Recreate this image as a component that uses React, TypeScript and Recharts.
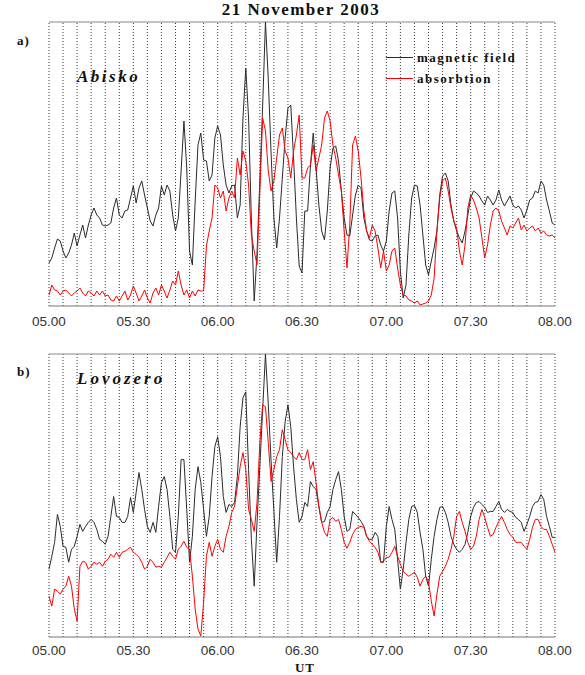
import React from 'react';
import { LineChart, Line, XAxis, YAxis, ReferenceLine, Legend } from 'recharts';

// minutes after 05.00 UT, one sample per minute (t = 0 .. 180)
const abiskoMag = [
  43, 48, 58, 67, 65, 55, 48, 53, 61, 73,
  60, 71, 81, 68, 81, 91, 98, 91, 88, 81,
  80, 81, 83, 98, 108, 91, 88, 95, 96, 108,
  120, 103, 118, 125, 111, 98, 85, 80, 91, 98,
  120, 111, 121, 115, 91, 75, 88, 135, 185, 138,
  55, 41, 105, 161, 173, 146, 145, 125, 131, 168,
  180, 171, 141, 121, 113, 120, 121, 88, 101, 188,
  238, 188, 86, 5, 53, 125, 200, 284, 227, 153,
  88, 58, 88, 128, 168, 198, 201, 148, 88, 40,
  33, 95, 95, 140, 173, 138, 101, 75, 66, 95,
  138, 158, 160, 145, 115, 88, 71, 70, 91, 111,
  121, 118, 88, 75, 66, 65, 70, 71, 61, 55,
  65, 95, 113, 115, 88, 35, 8, 21, 71, 108,
  121, 120, 101, 71, 41, 31, 45, 58, 75, 111,
  130, 133, 125, 101, 85, 75, 68, 63, 75, 91,
  108, 115, 113, 110, 105, 101, 110, 106, 101, 106,
  116, 106, 100, 105, 110, 101, 98, 100, 96, 88,
  96, 106, 108, 115, 113, 125, 121, 106, 95, 83, 81,
];

const abiskoAbs = [
  11, 21, 16, 15, 11, 15, 16, 13, 10, 13,
  15, 18, 13, 10, 15, 13, 10, 15, 11, 15,
  10, 11, 6, 5, 10, 5, 10, 15, 6, 11,
  20, 13, 5, 10, 16, 8, 3, 13, 18, 11,
  21, 15, 8, 16, 25, 21, 35, 21, 11, 16,
  8, 15, 10, 16, 15, 15, 60, 75, 88, 121,
  118, 108, 115, 95, 108, 115, 108, 148, 131, 155,
  145, 121, 71, 55, 41, 115, 188, 175, 135, 115,
  125, 148, 171, 178, 155, 148, 128, 155, 171, 191,
  128, 128, 138, 141, 161, 135, 148, 161, 188, 195,
  185, 161, 148, 131, 115, 75, 38, 81, 161, 170,
  155, 128, 95, 75, 68, 81, 75, 58, 38, 55,
  35, 41, 55, 58, 38, 21, 11, 10, 6, 5,
  3, 5, 1, 2, 3, 5, 11, 28, 75, 108,
  125, 128, 115, 98, 85, 78, 55, 41, 61, 98,
  111, 106, 98, 88, 68, 48, 61, 81, 95, 98,
  95, 85, 78, 71, 80, 78, 83, 88, 76, 81,
  75, 78, 80, 75, 78, 73, 75, 71, 70, 71, 68,
];

const lovozeroMag = [
  68, 81, 95, 123, 111, 91, 90, 75, 88, 91,
  101, 113, 106, 111, 115, 118, 115, 108, 98, 96,
  93, 101, 121, 141, 121, 120, 115, 115, 121, 140,
  125, 145, 165, 148, 128, 111, 105, 115, 105, 131,
  155, 161, 148, 121, 88, 85, 121, 178, 178, 128,
  75, 101, 148, 171, 155, 128, 101, 121, 161, 191,
  201, 181, 141, 125, 133, 131, 135, 161, 211, 240,
  246, 168, 98, 51, 115, 171, 228, 284, 234, 177,
  126, 75, 121, 181, 216, 233, 211, 171, 138, 115,
  121, 135, 131, 156, 151, 148, 131, 115, 116, 125,
  131, 148, 158, 166, 148, 121, 106, 108, 126, 123,
  120, 116, 111, 101, 98, 98, 105, 101, 75, 75,
  111, 131, 118, 108, 78, 48, 68, 95, 118, 131,
  132, 125, 105, 88, 61, 51, 78, 101, 118, 130,
  131, 125, 115, 101, 93, 88, 85, 88, 93, 105,
  121, 130, 135, 136, 133, 130, 125, 126, 126, 131,
  136, 128, 125, 128, 126, 125, 120, 118, 115, 106,
  113, 121, 131, 135, 136, 143, 138, 121, 111, 100, 100,
];

const lovozeroAbs = [
  41, 31, 48, 46, 43, 48, 51, 61, 51, 28,
  16, 71, 76, 75, 68, 71, 75, 73, 75, 71,
  76, 78, 83, 80, 85, 80, 85, 86, 88, 90,
  85, 83, 80, 75, 68, 71, 78, 75, 70, 71,
  70, 75, 80, 85, 81, 78, 88, 91, 96, 90,
  88, 61, 28, 8, 1, 35, 81, 95, 81, 91,
  98, 88, 85, 101, 111, 125, 131, 151, 171, 185,
  168, 128, 118, 106, 135, 195, 233, 231, 195, 156,
  168, 181, 188, 208, 198, 188, 185, 181, 178, 185,
  178, 178, 188, 168, 176, 155, 131, 115, 105, 101,
  118, 120, 116, 118, 108, 95, 89, 95, 103, 108,
  110, 111, 110, 101, 96, 93, 90, 85, 75, 76,
  80, 80, 85, 91, 81, 73, 66, 63, 61, 63,
  65, 60, 51, 58, 61, 55, 36, 21, 43, 61,
  66, 71, 78, 88, 101, 121, 126, 115, 106, 95,
  88, 91, 101, 118, 128, 120, 110, 101, 103, 110,
  116, 121, 115, 108, 103, 100, 95, 95, 95, 91,
  88, 98, 110, 118, 118, 111, 108, 108, 101, 93, 85,
];

const tickMinutes = [0, 30, 60, 90, 120, 150, 180];
const tickLabels = ['05.00', '05.30', '06.00', '06.30', '07.00', '07.30', '08.00'];
const gridMinutes = [
  0, 5, 10, 15, 20, 25, 30, 35, 40, 45, 50, 55, 60, 65, 70, 75, 80, 85, 90,
  95, 100, 105, 110, 115, 120, 125, 130, 135, 140, 145, 150, 155, 160, 165, 170, 175, 180,
];

const seriesKeys = ['mag', 'abs'];
const seriesNames: Record<string, string> = { mag: 'magnetic field', abs: 'absorbtion' };
const seriesColors: Record<string, string> = { mag: '#2b2b2b', abs: '#ff0000' };

const Y_TOP = 284;
const SERIF = '"Liberation Serif", "DejaVu Serif", serif';

const abiskoRows = abiskoMag.map((mag, i) => ({ t: i, mag, abs: abiskoAbs[i] }));
const lovozeroRows = lovozeroMag.map((mag, i) => ({ t: i, mag, abs: lovozeroAbs[i] }));

// legend drawn in a fixed order, colours taken from the series table
const renderLegend = () => (
  <div>
    {seriesKeys.map((k) => (
      <div key={k} style={{ display: 'flex', alignItems: 'center', height: 21 }}>
        <span style={{ display: 'inline-block', width: 27, height: 1, background: seriesColors[k], marginRight: 4 }} />
        <span style={{ fontFamily: SERIF, fontWeight: 'bold', fontSize: 13, letterSpacing: 1.5, color: '#111', lineHeight: 1 }}>
          {seriesNames[k]}
        </span>
      </div>
    ))}
  </div>
);

interface PanelProps {
  rows: { t: number; mag: number; abs: number }[];
  top: number;
  height: number;
  marginTop: number;
  tickGap: number;
  legend?: boolean;
}

function Panel({ rows, top, height, marginTop, tickGap, legend }: PanelProps) {
  return (
    <div style={{ position: 'absolute', left: 0, top }}>
      <LineChart width={585} height={height} data={rows} margin={{ top: marginTop, right: 30, left: 49, bottom: 0 }}>
        <XAxis dataKey="t" type="number" domain={[0, 180]} ticks={tickMinutes} interval={0}
          tickFormatter={(v: number) => tickLabels[tickMinutes.indexOf(v)]}
          height={24} tickLine={false} tickMargin={tickGap} axisLine={{ stroke: '#777' }}
          tick={{ fill: '#333', fontSize: 13.5, fontFamily: '"Liberation Sans", Arial, sans-serif' }} />
        <YAxis hide domain={[0, Y_TOP]} allowDataOverflow />
        {gridMinutes.map((m) => (
          <ReferenceLine key={m} x={m} stroke="#3a3a3a" strokeDasharray="1 2" />
        ))}
        <ReferenceLine y={Y_TOP} stroke="#888" />
        {legend && (
          <Legend layout="vertical" align="center" verticalAlign="middle" content={renderLegend}
            wrapperStyle={{ left: 386, top: 47, width: 'auto' }} />
        )}
        {seriesKeys.map((k) => (
          <Line key={k} type="linear" dataKey={k} name={seriesNames[k]} stroke={seriesColors[k]}
            strokeWidth={1} dot={false} isAnimationActive={false} />
        ))}
      </LineChart>
    </div>
  );
}

export default function App() {
  return (
    <div style={{ position: 'absolute', left: 0, top: 0, width: 585, height: 675, background: '#fff' }}>
      <Panel rows={abiskoRows} top={0} height={330} marginTop={22} tickGap={4} legend />
      <Panel rows={lovozeroRows} top={330} height={331} marginTop={24} tickGap={2} />
      <svg width={585} height={675} style={{ position: 'absolute', left: 0, top: 0, pointerEvents: 'none' }}>
        <text x={301} y={15} textAnchor="middle" fontFamily={SERIF} fontWeight="bold" fontSize={17} letterSpacing={1.5} fill="#111">
          21 November 2003
        </text>
        <text x={17} y={45} fontFamily={SERIF} fontWeight="bold" fontSize={13} letterSpacing={1} fill="#111">a)</text>
        <text x={77} y={82} fontFamily={SERIF} fontWeight="bold" fontStyle="italic" fontSize={17} letterSpacing={2.5} fill="#111">Abisko</text>
        <text x={17} y={376} fontFamily={SERIF} fontWeight="bold" fontSize={13} letterSpacing={1} fill="#111">b)</text>
        <text x={77} y={384} fontFamily={SERIF} fontWeight="bold" fontStyle="italic" fontSize={17} letterSpacing={3} fill="#111">Lovozero</text>
        <text x={305} y={672} textAnchor="middle" fontFamily={SERIF} fontWeight="bold" fontSize={13} letterSpacing={1} fill="#111">UT</text>
      </svg>
    </div>
  );
}
